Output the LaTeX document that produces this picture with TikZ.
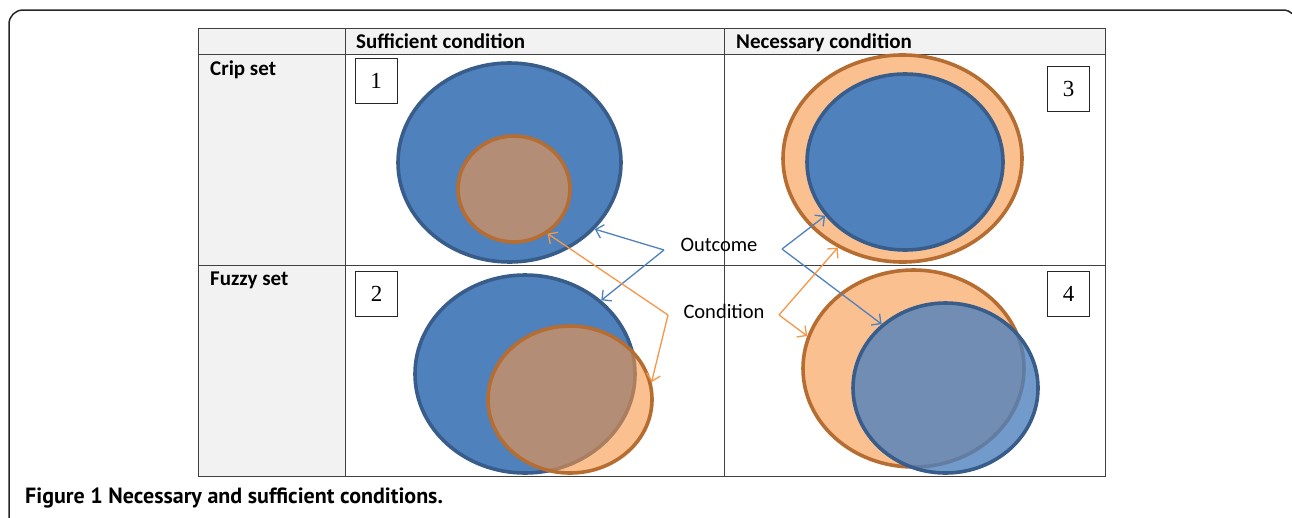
\documentclass[tikz,border=0pt]{standalone}
\usepackage{fontspec}
\setmainfont{Carlito}
\newfontfamily\numfont{Liberation Serif}
\newfontfamily\capfont{PT Sans}
\usetikzlibrary{shapes.geometric,arrows.meta}
\definecolor{oblue}{HTML}{4F81BD}
\definecolor{oblueb}{HTML}{385D8A}
\definecolor{oorange}{HTML}{F79646}
\definecolor{oorangeb}{HTML}{B66D31}
\definecolor{lorange}{HTML}{FAC090}
\definecolor{cellgray}{HTML}{F2F2F2}
\begin{document}
\begin{tikzpicture}[x=1pt,y=-1pt,
  hdr/.style={font=\bfseries\fontsize{21}{24}\selectfont, anchor=base west, inner sep=0},
  numbox/.style={draw=black!85, line width=1pt, minimum width=42pt, minimum height=45pt, inner sep=0, font=\numfont\fontsize{23}{26}\selectfont},
  bset/.style={ellipse, draw=oblueb, line width=3.6pt, fill=oblue, inner sep=0},
  oset/.style={ellipse, draw=oorangeb, line width=3.6pt, fill=oorange, fill opacity=0.6, inner sep=0},
  lbl/.style={font=\fontsize{20.5}{24}\selectfont, inner sep=0},
  barrow/.style={draw=oblue, line width=1.3pt, -{Straight Barb[length=7pt,width=14pt]}},
  oarrow/.style={draw=oorange, line width=1.3pt, -{Straight Barb[length=7pt,width=14pt]}},
  tline/.style={draw=black!75, line width=1pt}
]
\useasboundingbox (0,0) rectangle (1292,517);
% outer frame
\begin{scope}
\clip (0,0) rectangle (1292,517);
\draw[black!85, line width=1.5pt, rounded corners=14pt] (9,540) -- (9,10) -- (1297,10) -- (1297,540);
\end{scope}
% table
\fill[cellgray] (198,28) rectangle (1105,54);
\fill[cellgray] (198,54) rectangle (345,476);
\draw[tline] (198,28) rectangle (1105,476);
\draw[tline] (345,28) -- (345,476);
\draw[tline] (724,28) -- (724,476);
\draw[tline] (198,54) -- (1105,54);
\draw[tline] (198,265) -- (1105,265);
\node[hdr] (hsuf) at (356,48) {Sufficient condition};
\node[hdr] (hnec) at (736,48) {Necessary condition};
\node[hdr] (hcrip) at (210,75) {Crip set};
\node[hdr] (hfuzzy) at (210,285) {Fuzzy set};
% cell 1
\node[bset, minimum width=223pt, minimum height=199pt] (c1b) at (509.5,162.5) {};
\node[oset, minimum width=112pt, minimum height=106pt] (c1o) at (514,189) {};
% cell 3
\node[ellipse, draw=oorangeb, line width=3.6pt, fill=lorange, inner sep=0, minimum width=239pt, minimum height=207pt] (c3o) at (902.5,158.5) {};
\node[bset, minimum width=196pt, minimum height=176pt] (c3b) at (905,162) {};
% cell 2
\node[bset, minimum width=220pt, minimum height=198pt] (c2b) at (525,374) {};
\node[oset, minimum width=164pt, minimum height=147pt] (c2o) at (570,399.5) {};
% cell 4
\node[ellipse, draw=oorangeb, line width=3.6pt, fill=lorange, inner sep=0, minimum width=221pt, minimum height=197pt] (c4o) at (913.5,368.5) {};
\node[bset, fill opacity=0.8, minimum width=185pt, minimum height=170pt] (c4b) at (945.5,388) {};
% number boxes
\node[numbox] (n1) at (376,80.5) {1};
\node[numbox] (n3) at (1068.5,88.5) {3};
\node[numbox] (n2) at (376.5,294) {2};
\node[numbox] (n4) at (1068.5,294) {4};
% labels
\node[lbl] (outcome) at (719,245) {Outcome};
\node[lbl] (condition) at (724,311) {Condition};
% arrows
\coordinate (ocl) at (664,250);
\coordinate (ocr) at (782,249);
\coordinate (ccl) at (668,315);
\coordinate (ccr) at (779,315);
\draw[barrow] (ocl) -- (c1b.-38.5);
\draw[barrow] (ocl) -- (c2b.44.3);
\draw[barrow] (ocr) -- (c3b.214.4);
\draw[barrow] (ocr) -- (c4b.135.7);
\draw[oarrow] (ccl) -- (c1o.-53.5);
\draw[oarrow] (ccl) -- (c2o.12.3);
\draw[oarrow] (ccr) -- (c3o.234.7);
\draw[oarrow] (ccr) -- (c4o.163.5);
% caption
\node[font=\capfont\bfseries\fontsize{22}{26}\selectfont, anchor=base west, inner sep=0] (cap) at (25,503) {Figure 1 Necessary and sufficient conditions.};
\end{tikzpicture}
\end{document}
